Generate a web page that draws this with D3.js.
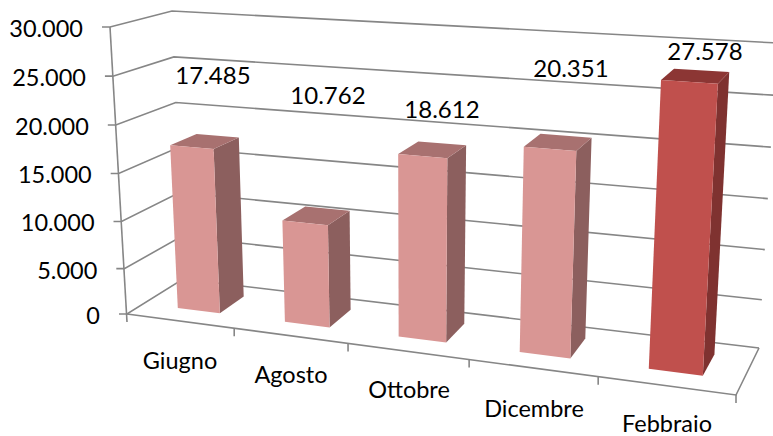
<!DOCTYPE html>
<html><head><meta charset="utf-8">
<script src="https://cdn.jsdelivr.net/npm/d3@7"></script>
<style>html,body{margin:0;background:#fff}svg{display:block}text{font-family:Lato,Carlito,sans-serif;fill:#000}</style>
</head><body><div id="c"></div>
<script>
const categories = ["Giugno","Agosto","Ottobre","Dicembre","Febbraio"];
const values = [17485,10762,18612,20351,27578];
const valueLabels = ["17.485","10.762","18.612","20.351","27.578"];
const highlighted = [false,false,false,false,true];
const yTicks = [0,5000,10000,15000,20000,25000,30000];

const W=773,H=436;
const corners = {
  bFL:[127,314], bFR:[736,395], bBL:[183,279], bBR:[759,348],
  tFL:[110,27],  tFR:[755,67],  tBL:[172,11],  tBR:[777,43]
};
const labelAnchors=[[213,75],[328,95],[442,109],[571,68],[705,51]];
const catAnchors=[[180,361],[291,375],[409,390],[534,409],[667,424]];
const fmt=d3.formatLocale({decimal:",",thousands:".",grouping:[3],currency:["€",""]}).format(",d");

const yS=d3.scalePow().exponent(1.03).domain([0,30000]).range([0,1]);
const xB=d3.scaleBand().domain(categories).range([.004,1.004]).paddingInner(.6).paddingOuter(.31);
const warp=u=>u/(u+1.17*(1-u));
const lerp=(a,b,t)=>[a[0]+(b[0]-a[0])*t,a[1]+(b[1]-a[1])*t];
function P(u,v,t){
  const w=warp(u);
  const bot=lerp(lerp(corners.bFL,corners.bFR,w),lerp(corners.bBL,corners.bBR,w),v);
  const top=lerp(lerp(corners.tFL,corners.tFR,w),lerp(corners.tBL,corners.tBR,w),v);
  return lerp(bot,top,t);
}
const line=d3.line();
const svg=d3.select("#c").append("svg").attr("width",W).attr("height",H);
const grid="#868686";
const gridG=svg.append("g").attr("fill","none").attr("stroke",grid).attr("stroke-width",1.6);

// walls: left side + back
gridG.selectAll("path.g").data(yTicks).join("path").attr("class","g")
  .attr("d",d=>{const t=yS(d);const a=P(0,0,t);return line([[a[0]-8,a[1]],a,P(0,1,t),P(1,1,t)]);});
// left axis
gridG.append("path").attr("d",line([P(0,0,1),[corners.bFL[0],corners.bFL[1]+8]]));
// floor
gridG.append("path").attr("d",line([P(0,0,0),P(1,0,0),P(1,1,0)]));
gridG.selectAll("path.t").data(d3.range(1,6).map(i=>i/5)).join("path").attr("class","t")
  .attr("d",u=>{const a=P(u,0,0);return line([a,[a[0],a[1]+8]]);});

const vF=.3,vB=.76;
const palette={pink:["#d99694","#8c5f5e","#a87170"],red:["#c0504d","#7f3230","#8c3634"]};
const poly=pts=>line(pts)+"Z";
const bars=svg.append("g").selectAll("g").data(categories).join("g");
bars.each(function(c,i){
  const g=d3.select(this),u0=xB(c),u1=u0+xB.bandwidth(),t=yS(values[i]);
  const col=highlighted[i]?palette.red:palette.pink;
  g.append("path").attr("fill",col[1]).attr("d",poly([P(u1,vF,0),P(u1,vB,0),P(u1,vB,t),P(u1,vF,t)]));
  g.append("path").attr("fill",col[2]).attr("d",poly([P(u0,vF,t),P(u1,vF,t),P(u1,vB,t),P(u0,vB,t)]));
  g.append("path").attr("fill",col[0]).attr("d",poly([P(u0,vF,0),P(u1,vF,0),P(u1,vF,t),P(u0,vF,t)]));
});

// text
const yLab=svg.append("g").attr("text-anchor","end").attr("font-size",23.5);
yLab.selectAll("text").data(yTicks).join("text")
  .attr("x",d=>P(0,0,yS(d))[0]-27).attr("y",d=>P(0,0,yS(d))[1]+10).text(d=>fmt(d));
svg.append("g").attr("text-anchor","middle").attr("font-size",24)
  .selectAll("text").data(valueLabels).join("text")
  .attr("x",(d,i)=>labelAnchors[i][0]).attr("y",(d,i)=>labelAnchors[i][1]+9).text(d=>d);
svg.append("g").attr("text-anchor","middle").attr("font-size",23.5)
  .selectAll("text").data(categories).join("text")
  .attr("x",(d,i)=>catAnchors[i][0]).attr("y",(d,i)=>catAnchors[i][1]+8).text(d=>d);
</script></body></html>
